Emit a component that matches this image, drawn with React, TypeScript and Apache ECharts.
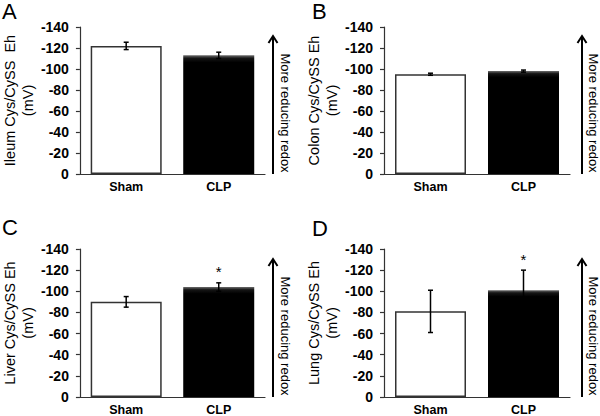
import React, { useEffect, useRef } from "react";
import * as echarts from "echarts";

const categories = ["Sham", "CLP"];
const panelLetters = ["A", "B", "C", "D"];
const yTitles = ["Ileum Cys/CySS  Eh", "Colon Cys/CySS Eh", "Liver Cys/CySS Eh", "Lung Cys/CySS Eh"];
const yUnit = "(mV)";

const ileumMean = [-122, -113];
const ileumErr = [3.5, 3];
const colonMean = [-95, -98];
const colonErr = [1, 1];
const liverMean = [-90, -104];
const liverErr = [5, 4];
const lungMean = [-81, -101];
const lungErr = [20, 19];

const ileumSig = [0, 0];
const colonSig = [0, 0];
const liverSig = [0, 1];
const lungSig = [0, 1];

const yMin = -140;
const yMax = 0;
const yInterval = 20;
const arrowLabel = "More reducing redox";
const sigMark = "*";

const means = [ileumMean, colonMean, liverMean, lungMean];
const errs = [ileumErr, colonErr, liverErr, lungErr];
const sigs = [ileumSig, colonSig, liverSig, lungSig];

const FONT = "'Liberation Sans', Arial, Helvetica, sans-serif";

const grids = [
  { left: 76, top: 27, width: 189, height: 147 },
  { left: 384, top: 27, width: 186, height: 147 },
  { left: 76, top: 249, width: 189, height: 148 },
  { left: 384, top: 249, width: 186, height: 148 },
];

const letterPos = [
  [2, 0],
  [312, 0],
  [2, 216],
  [312, 217],
];

const arrowPos = [
  { x: 273, y1: 174, y2: 36, tx: 285, ty: 113 },
  { x: 582, y1: 174, y2: 36, tx: 593, ty: 113 },
  { x: 273, y1: 397, y2: 259, tx: 285, ty: 336 },
  { x: 582, y1: 397, y2: 259, tx: 593, ty: 336 },
];

export default function App() {
  const ref = useRef<HTMLDivElement>(null);

  useEffect(() => {
    if (!ref.current) return;
    const chart = echarts.init(ref.current, null, { renderer: "svg" });

    const xAxis: any[] = [];
    const yAxis: any[] = [];
    const series: any[] = [];
    const graphic: any[] = [];

    grids.forEach((g, i) => {
      xAxis.push({
        type: "category",
        gridIndex: i,
        data: categories,
        axisTick: { show: false },
        axisLine: { onZero: false, lineStyle: { color: "#333", width: 1.2 } },
        axisLabel: {
          color: "#000",
          fontWeight: "bold",
          fontSize: 12.5,
          fontFamily: FONT,
          margin: 6,
        },
      });
      yAxis.push({
        type: "value",
        gridIndex: i,
        min: yMin,
        max: yMax,
        interval: yInterval,
        inverse: true,
        name: yTitles[i] + "\n" + yUnit,
        nameLocation: "middle",
        nameGap: 36,
        nameTextStyle: {
          color: "#000",
          fontSize: 14.5,
          lineHeight: 18,
          fontFamily: FONT,
        },
        axisLine: { show: true, lineStyle: { color: "#333", width: 1.2 } },
        axisTick: { show: true, length: 4, lineStyle: { color: "#333", width: 1.2 } },
        splitLine: { show: false },
        axisLabel: {
          color: "#000",
          fontWeight: "bold",
          fontSize: 14,
          fontFamily: FONT,
          margin: 11,
        },
      });

      series.push({
        type: "bar",
        xAxisIndex: i,
        yAxisIndex: i,
        barWidth: 71,
        z: 2,
        data: means[i].map((v, k) =>
          k === 0
            ? { value: v, itemStyle: { color: "#fff", borderColor: "#333", borderWidth: 1.5 } }
            : {
                value: v,
                itemStyle: {
                  color: new echarts.graphic.LinearGradient(0, 0, 0, 1, [
                    { offset: 0, color: "#6a6a6a" },
                    { offset: 0.025, color: "#151515" },
                    { offset: 0.06, color: "#000" },
                    { offset: 1, color: "#000" },
                  ]),
                  borderWidth: 0,
                },
              }
        ),
      });

      series.push({
        type: "custom",
        xAxisIndex: i,
        yAxisIndex: i,
        z: 5,
        encode: { x: 0, y: 1 },
        data: means[i].map((v, k) => [k, v, errs[i][k], sigs[i][k]]),
        renderItem: (params: any, api: any) => {
          const x = api.value(0);
          const m = api.value(1);
          const e = api.value(2);
          const s = api.value(3);
          const top = api.coord([x, m - e]);
          const bot = api.coord([x, m + e]);
          const cw = 2.5;
          const st = { stroke: "#000", lineWidth: 1.5 };
          const children: any[] = [
            { type: "line", shape: { x1: top[0], y1: top[1], x2: bot[0], y2: bot[1] }, style: st },
            { type: "line", shape: { x1: top[0] - cw, y1: top[1], x2: top[0] + cw, y2: top[1] }, style: st },
            { type: "line", shape: { x1: bot[0] - cw, y1: bot[1], x2: bot[0] + cw, y2: bot[1] }, style: st },
          ];
          if (s) {
            children.push({
              type: "text",
              style: {
                text: sigMark,
                x: top[0],
                y: top[1] - 11,
                align: "center",
                verticalAlign: "middle",
                fontSize: 15,
                fontFamily: FONT,
                fill: "#000",
              },
            });
          }
          return { type: "group", children };
        },
      });

      graphic.push({
        type: "text",
        left: letterPos[i][0],
        top: letterPos[i][1],
        style: { text: panelLetters[i], fontSize: 22, fontFamily: FONT, fill: "#000" },
      });
      const a = arrowPos[i];
      graphic.push({
        type: "line",
        shape: { x1: a.x, y1: a.y1, x2: a.x, y2: a.y2 + 1 },
        style: { stroke: "#000", lineWidth: 2 },
      });
      graphic.push({
        type: "polyline",
        shape: { points: [[a.x - 4.5, a.y2 + 7], [a.x, a.y2], [a.x + 4.5, a.y2 + 7]] },
        style: { stroke: "#000", lineWidth: 2, fill: null },
      });
      graphic.push({
        type: "text",
        x: a.tx,
        y: a.ty,
        rotation: -Math.PI / 2,
        style: {
          text: arrowLabel,
          fontSize: 13,
          fontFamily: FONT,
          fill: "#000",
          align: "center",
          verticalAlign: "middle",
        },
      });
    });

    chart.setOption({
      animation: false,
      backgroundColor: "#fff",
      grid: grids.map((g) => ({ ...g, containLabel: false })),
      xAxis,
      yAxis,
      series,
      graphic,
    });

    return () => chart.dispose();
  }, []);

  return (
    <div
      ref={ref}
      style={{ position: "fixed", left: 0, top: 0, width: 600, height: 416, background: "#fff" }}
    />
  );
}
